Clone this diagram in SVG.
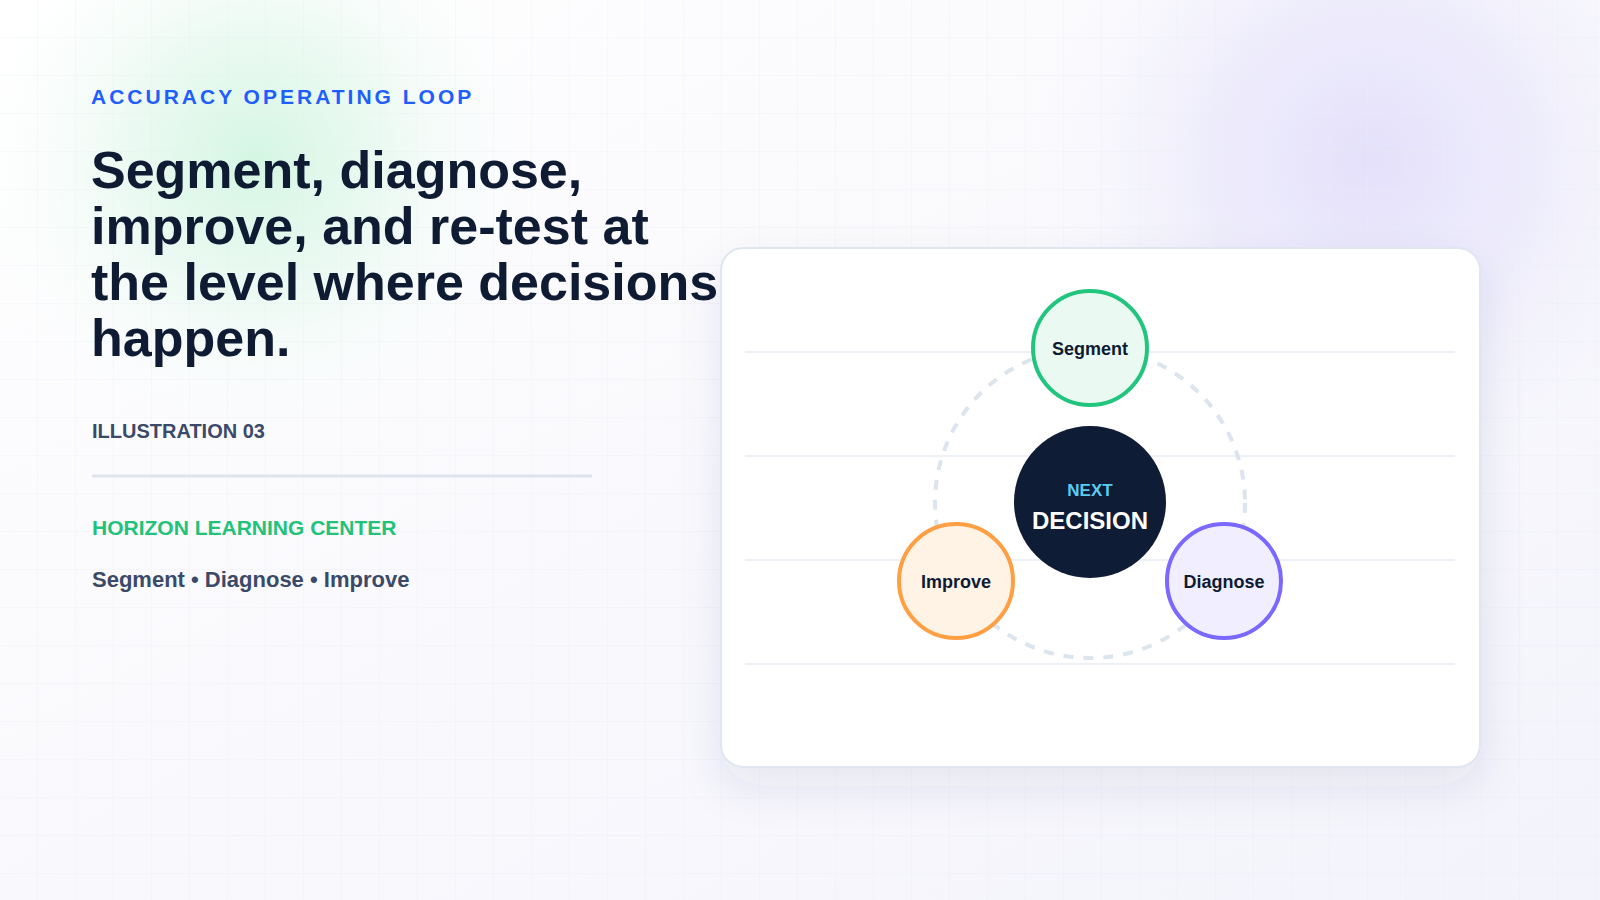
<svg xmlns="http://www.w3.org/2000/svg" width="1600" height="900" viewBox="0 0 1600 900">
  <defs>
    <linearGradient id="bg" x1="0" y1="0" x2="1" y2="1">
      <stop offset="0" stop-color="#ffffff"/>
      <stop offset="1" stop-color="#f3f3fb"/>
    </linearGradient>
    <radialGradient id="glowGreen" cx="255" cy="160" r="290" gradientUnits="userSpaceOnUse">
      <stop offset="0" stop-color="#d4f6e2" stop-opacity="1"/>
      <stop offset="0.45" stop-color="#e2f8ec" stop-opacity="0.65"/>
      <stop offset="1" stop-color="#ffffff" stop-opacity="0"/>
    </radialGradient>
    <radialGradient id="glowPurple" cx="1370" cy="160" r="340" gradientUnits="userSpaceOnUse">
      <stop offset="0" stop-color="#e4e0fb" stop-opacity="1"/>
      <stop offset="0.5" stop-color="#eae8fb" stop-opacity="0.7"/>
      <stop offset="1" stop-color="#f5f5fc" stop-opacity="0"/>
    </radialGradient>
    <pattern id="grid" width="38" height="38" patternUnits="userSpaceOnUse">
      <path d="M38 0 V38 M0 38 H38" fill="none" stroke="#e9eef4" stroke-width="1" opacity="0.7"/>
    </pattern>
    <filter id="shadow" x="-20%" y="-20%" width="140%" height="160%">
      <feDropShadow dx="0" dy="18" stdDeviation="22" flood-color="#2a3470" flood-opacity="0.09"/>
    </filter>
    <style>
      .sans { font-family: "Liberation Sans", Arial, sans-serif; font-weight: bold; }
      .eyebrow { fill: #1f5efb; font-size: 21px; letter-spacing: 3px; }
      .headline { fill: #0e1b33; font-size: 52px; }
      .meta { fill: #3a4a68; font-size: 20px; }
      .brand { fill: #22c27a; font-size: 21px; }
      .tags { fill: #3a4a68; font-size: 22px; }
      .rule { stroke: #edf1f6; stroke-width: 2; }
      .node-label { fill: #0e1b33; font-size: 18px; text-anchor: middle; }
      .node { stroke-width: 4; }
    </style>
  </defs>

  <!-- background -->
  <rect x="0" y="0" width="1600" height="900" fill="url(#bg)"/>
  <rect x="0" y="0" width="1600" height="900" fill="url(#glowGreen)"/>
  <rect x="0" y="0" width="1600" height="900" fill="url(#glowPurple)"/>
  <rect x="0" y="0" width="1600" height="900" fill="url(#grid)"/>

  <!-- left column text -->
  <g id="intro">
    <text class="sans eyebrow" x="91" y="104">ACCURACY OPERATING LOOP</text>
    <text class="sans headline" x="91">
      <tspan x="91" y="188">Segment, diagnose,</tspan>
      <tspan x="91" y="244">improve, and re-test at</tspan>
      <tspan x="91" y="300">the level where decisions</tspan>
      <tspan x="91" y="356">happen.</tspan>
    </text>
    <text class="sans meta" x="92" y="438">ILLUSTRATION 03</text>
    <line x1="92" y1="476" x2="592" y2="476" stroke="#dde4ee" stroke-width="3"/>
    <text class="sans brand" x="92" y="535">HORIZON LEARNING CENTER</text>
    <text class="sans tags" x="92" y="587">Segment • Diagnose • Improve</text>
  </g>

  <!-- card -->
  <g id="card">
    <rect x="721" y="248" width="759" height="519" rx="22" ry="22" fill="#ffffff" stroke="#dfe6ef" stroke-width="2" filter="url(#shadow)"/>
    <line class="rule" x1="745" y1="352" x2="1455" y2="352"/>
    <line class="rule" x1="745" y1="456" x2="1455" y2="456"/>
    <line class="rule" x1="745" y1="560" x2="1455" y2="560"/>
    <line class="rule" x1="745" y1="664" x2="1455" y2="664"/>
  </g>

  <!-- connectors -->
  <g id="connectors">
    <circle cx="1090" cy="503" r="155" fill="none" stroke="#dce4ee" stroke-width="4" stroke-dasharray="10 10"/>
  </g>

  <!-- nodes -->
  <g id="node-center">
    <circle cx="1090" cy="502" r="76" fill="#0e1c35"/>
    <text class="sans" x="1090" y="496" text-anchor="middle" font-size="17" fill="#5ccbf2">NEXT</text>
    <text class="sans" x="1090" y="529" text-anchor="middle" font-size="24" fill="#ffffff">DECISION</text>
  </g>
  <g id="node-segment">
    <circle class="node" cx="1090" cy="348" r="57" fill="#eafaf2" stroke="#22c57e"/>
    <text class="sans node-label" x="1090" y="355">Segment</text>
  </g>
  <g id="node-improve">
    <circle class="node" cx="956" cy="581" r="57" fill="#fff3e6" stroke="#ff9f43"/>
    <text class="sans node-label" x="956" y="588">Improve</text>
  </g>
  <g id="node-diagnose">
    <circle class="node" cx="1224" cy="581" r="57" fill="#f0eeff" stroke="#7a68ff"/>
    <text class="sans node-label" x="1224" y="588">Diagnose</text>
  </g>
</svg>
